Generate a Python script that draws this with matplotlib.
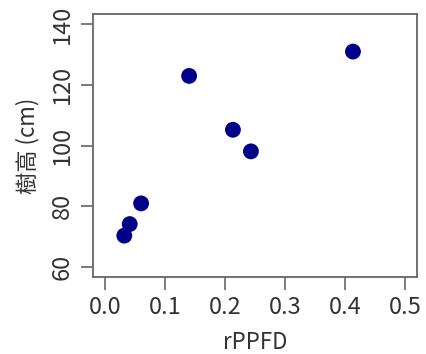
import matplotlib
matplotlib.use("Agg")
import matplotlib.pyplot as plt

plt.rcParams['font.family'] = ['Noto Sans CJK JP', 'DejaVu Sans']

# values
rppfd = [0.032, 0.041, 0.060, 0.140, 0.213, 0.243, 0.413]
height = [70.4, 74.2, 81.0, 122.9, 105.2, 98.1, 130.9]

x_ticks = [0.0, 0.1, 0.2, 0.3, 0.4, 0.5]
x_labels = ["0.0", "0.1", "0.2", "0.3", "0.4", "0.5"]
y_ticks = [60, 80, 100, 120, 140]

fig = plt.figure(figsize=(4.27, 3.54), dpi=100)
ax = fig.add_axes([0.218, 0.2175, 0.759, 0.7425])

ax.scatter(rppfd, height, s=130, color="#00008B", edgecolors="none", zorder=3)

# R style: 4% padding around the axis range
ax.set_xlim(-0.02, 0.52)
ax.set_ylim(56.8, 143.2)

ax.set_xticks(x_ticks)
ax.set_xticklabels(x_labels)
ax.set_yticks(y_ticks)
ax.set_yticklabels([str(v) for v in y_ticks], rotation=90, va="center")

for s in ax.spines.values():
    s.set_color("#666666")
    s.set_linewidth(1.3)
ax.tick_params(direction="out", length=9, width=1.2, color="#666666",
               labelsize=17, labelcolor="#333333", pad=5)

ax.set_xlabel("rPPFD", fontsize=16, color="#333333", labelpad=8)
ax.set_ylabel("樹高 (cm)", fontsize=16, color="#333333", labelpad=8)

fig.savefig("out.png", dpi=100)
